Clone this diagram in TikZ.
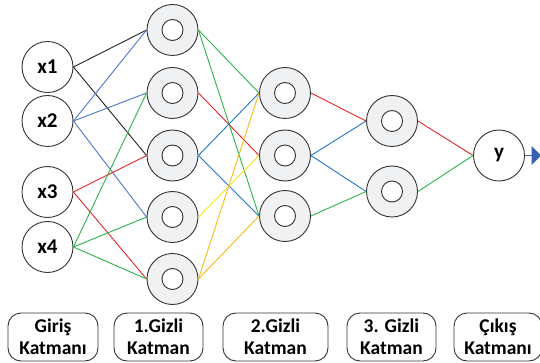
\documentclass[tikz,border=0pt]{standalone}
\usepackage{fontspec}
\setmainfont{Carlito}
\usetikzlibrary{shapes.arrows}
\definecolor{ringgray}{HTML}{F0F1F3}
\definecolor{edgegray}{HTML}{333333}
\definecolor{cblack}{HTML}{222222}
\definecolor{cblueA}{HTML}{4A78C8}
\definecolor{cblueB}{HTML}{1F78C8}
\definecolor{cgreen}{HTML}{2DB34A}
\definecolor{cred}{HTML}{E3262B}
\definecolor{cyellow}{HTML}{F5E61A}
\definecolor{corange}{HTML}{FDB913}
\definecolor{carrow}{HTML}{3A62B0}
\begin{document}
\begin{tikzpicture}[x=1pt,y=-1pt,
  txt/.style={font=\fontsize{19.5}{22}\selectfont\bfseries},
  innode/.style={circle,draw=edgegray,line width=0.9pt,fill=white,minimum size=51pt,inner sep=0pt,
    font=\fontsize{21}{24}\selectfont\bfseries},
  ring/.style={circle,draw=edgegray,line width=0.9pt,fill=ringgray,minimum size=51pt,inner sep=0pt,
    path picture={\draw[edgegray,line width=0.9pt,fill=white] (path picture bounding box.center) circle (10.5pt);}},
  lab/.style={draw=edgegray,line width=0.9pt,rounded corners=13pt,minimum height=48pt,inner sep=0pt,align=center,txt},
  conn/.style={line width=0.9pt}]
\useasboundingbox (0,0) rectangle (540,363);
% input layer
\node[innode] (x1) at (47.5,67) {x1};
\node[innode] (x2) at (47.5,121) {x2};
\node[innode] (x3) at (47.5,192) {x3};
\node[innode] (x4) at (47.5,247) {x4};
% hidden 1
\node[ring] (h1) at (172.5,30) {};
\node[ring] (h2) at (172.5,93) {};
\node[ring] (h3) at (172.5,155.5) {};
\node[ring] (h4) at (172.5,217) {};
\node[ring] (h5) at (172.5,279) {};
% hidden 2
\node[ring] (g1) at (285,93) {};
\node[ring] (g2) at (285,155.5) {};
\node[ring] (g3) at (285,216) {};
% hidden 3
\node[ring] (k1) at (392,121) {};
\node[ring] (k2) at (392,191.5) {};
% output
\node[innode] (y) at (499,155.5) {y};
% connections input -> h1
\draw[conn,cblack] (x1.east) -- (h1.west);
\draw[conn,cblack] (x1.east) -- (h3.west);
\draw[conn,cblueA] (x2.east) -- (h1.west);
\draw[conn,cblueA] (x2.east) -- (h2.west);
\draw[conn,cblueA] (x2.east) -- (h4.west);
\draw[conn,cred] (x3.east) -- (h3.west);
\draw[conn,cred] (x3.east) -- (h5.west);
\draw[conn,cgreen] (x4.east) -- (h2.west);
\draw[conn,cgreen] (x4.east) -- (h4.west);
\draw[conn,cgreen] (x4.east) -- (h5.west);
% h -> g
\draw[conn,cgreen] (h1.east) -- (g1.west);
\draw[conn,cgreen] (h1.east) -- (g3.west);
\draw[conn,cred] (h2.east) -- (g2.west);
\draw[conn,cblueB] (h3.east) -- (g1.west);
\draw[conn,cblueB] (h3.east) -- (g3.west);
\draw[conn,cyellow] (h4.east) -- (g2.west);
\draw[conn,corange] (h5.east) -- (g1.west);
\draw[conn,corange] (h5.east) -- (g3.west);
% g -> k
\draw[conn,cred] (g1.east) -- (k1.west);
\draw[conn,cblueB] (g2.east) -- (k1.west);
\draw[conn,cblueB] (g2.east) -- (k2.west);
\draw[conn,cgreen] (g3.east) -- (k2.west);
% k -> y
\draw[conn,cred] (k1.east) -- (y.west);
\draw[conn,cgreen] (k2.east) -- (y.west);
% output arrow
\node[single arrow,fill=carrow,draw=none,minimum height=16pt,minimum width=19pt,
  single arrow head extend=5.5pt,inner sep=0pt,anchor=west] (arr) at (y.east) {};
% labels
\node[lab,minimum width=90pt] (l1) at (53,337) {Giriş\\Katmanı};
\node[lab,minimum width=89pt] (l2) at (158.5,337) {1.Gizli\\Katman};
\node[lab,minimum width=105pt] (l3) at (275.5,337) {2.Gizli\\Katman};
\node[lab,minimum width=89pt] (l4) at (391.5,337) {3. Gizli\\Katman};
\node[lab,minimum width=88pt] (l5) at (498,337) {Çıkış\\Katmanı};
\end{tikzpicture}
\end{document}
